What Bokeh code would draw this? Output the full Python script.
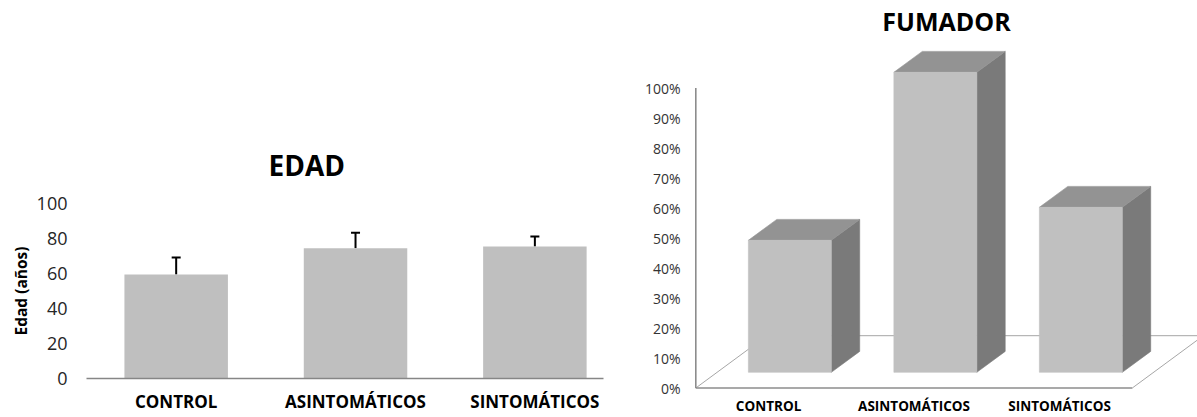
import numpy as np
from bokeh.plotting import figure
from bokeh.layouts import row
from bokeh.models import (FixedTicker, PrintfTickFormatter, Whisker, TeeHead,
                          ColumnDataSource, Range1d, Title)
from bokeh.embed import file_html
from bokeh.resources import INLINE
from bokeh.core.properties import value

# ---------------- data ----------------
categories = ["CONTROL", "ASINTOMÁTICOS", "SINTOMÁTICOS"]
edad_mean = [59.4, 74.5, 75.4]
edad_err = [9.7, 8.8, 5.7]
edad_ticks = [0, 20, 40, 60, 80, 100]
fumador_pct = [44, 100, 55]
fumador_ticks = [0, 10, 20, 30, 40, 50, 60, 70, 80, 90, 100]

FONT = "Open Sans"
H = 417

# ---------------- left chart: EDAD ----------------
UNIT1 = 179.35  # px per category
p1 = figure(width=620, height=H,
            x_range=Range1d(-0.5, -0.5 + 517 / UNIT1), y_range=Range1d(0, 100),
            output_backend="svg", toolbar_location=None,
            min_border_left=86, min_border_right=17,
            min_border_top=203, min_border_bottom=H - 378)
p1.frame_align = False
p1.outline_line_color = None
p1.xgrid.visible = False
p1.ygrid.visible = False

idx = list(range(len(categories)))
src1 = ColumnDataSource(dict(
    x=idx, mean=edad_mean,
    upper=[m + e for m, e in zip(edad_mean, edad_err)]))
p1.vbar(x="x", top="mean", bottom=0, width=0.577, source=src1,
        fill_color="#bfbfbf", line_color=None)
p1.add_layout(Whisker(base="x", lower="mean", upper="upper", source=src1,
                      lower_head=None,
                      upper_head=TeeHead(size=9, line_width=2, line_color="black"),
                      line_width=2, line_color="black"))

p1.xaxis.ticker = FixedTicker(ticks=idx)
p1.xaxis.major_label_overrides = {i: c for i, c in enumerate(categories)}
p1.xaxis.axis_line_color = "#868686"
p1.xaxis.axis_line_width = 1.3
p1.xaxis.major_tick_line_color = None
p1.xaxis.minor_tick_line_color = None
p1.xaxis.major_tick_out = 0
p1.xaxis.major_tick_in = 0
p1.xaxis.major_label_standoff = 11
p1.xaxis.major_label_text_font = FONT
p1.xaxis.major_label_text_font_size = "17px"
p1.xaxis.major_label_text_font_style = "bold"
p1.xaxis.major_label_text_color = "black"

p1.yaxis.ticker = FixedTicker(ticks=edad_ticks)
p1.yaxis.axis_line_color = None
p1.yaxis.major_tick_line_color = None
p1.yaxis.minor_tick_line_color = None
p1.yaxis.major_tick_out = 0
p1.yaxis.major_tick_in = 0
p1.yaxis.major_label_standoff = 19
p1.yaxis.major_label_text_font = FONT
p1.yaxis.major_label_text_font_size = "18px"
p1.yaxis.major_label_text_color = "#262626"
p1.yaxis.axis_label = "Edad (años)"
p1.yaxis.axis_label_text_font = FONT
p1.yaxis.axis_label_text_font_size = "15.5px"
p1.yaxis.axis_label_text_font_style = "bold"
p1.yaxis.axis_label_text_color = "black"
p1.yaxis.axis_label_standoff = 2

p1.add_layout(Title(text="EDAD", align="left", offset=182, standoff=39,
                    text_font=FONT, text_font_size="28px",
                    text_font_style="bold", text_color="black"), "above")

# ---------------- right chart: FUMADOR (3D columns) ----------------
UX = 145.5     # px per category slot
UY = 3.0       # px per percent
DX = 71 / UX   # depth offset (full floor depth) in x units
DY = 52.3 / UY # depth offset in y units
Z0, Z1 = 0.3, 0.7
HW = 0.285
n = len(categories)

W2 = 577
left_px, axis_px = 72, 75.3
x_start = -(axis_px - left_px) / UX
frame_w = W2 - left_px
zero_px = 387.5
p2 = figure(width=W2, height=H,
            x_range=Range1d(x_start, x_start + frame_w / UX),
            y_range=Range1d(-(H - zero_px) / UY, zero_px / UY),
            output_backend="svg", toolbar_location=None,
            min_border_left=left_px, min_border_right=0,
            min_border_top=0, min_border_bottom=0)
p2.frame_align = False
p2.outline_line_color = None
p2.xgrid.visible = False
p2.ygrid.visible = False
p2.xaxis.visible = False

# floor
p2.multi_line(xs=[[0, DX], [n, n + DX], [DX, n + DX]],
              ys=[[0, DY], [0, DY], [DY, DY]],
              line_color="#a6a6a6", line_width=1)
p2.line(x=[0, n], y=[0, 0], line_color="#8c8c8c", line_width=1.6)
# vertical axis line
p2.line(x=[0, 0], y=[0, max(fumador_ticks)], line_color="#8c8c8c", line_width=1.6)

fx, fy, sx, sy, tx, ty = [], [], [], [], [], []
for i, v in enumerate(fumador_pct):
    c = i + 0.5
    xl, xr = c - HW, c + HW
    fx.append([xl + Z0 * DX, xr + Z0 * DX, xr + Z0 * DX, xl + Z0 * DX])
    fy.append([Z0 * DY, Z0 * DY, v + Z0 * DY, v + Z0 * DY])
    sx.append([xr + Z0 * DX, xr + Z1 * DX, xr + Z1 * DX, xr + Z0 * DX])
    sy.append([Z0 * DY, Z1 * DY, v + Z1 * DY, v + Z0 * DY])
    tx.append([xl + Z0 * DX, xr + Z0 * DX, xr + Z1 * DX, xl + Z1 * DX])
    ty.append([v + Z0 * DY, v + Z0 * DY, v + Z1 * DY, v + Z1 * DY])

p2.patches(sx, sy, fill_color="#7a7a7a", line_color="#7a7a7a", line_width=0.6)
p2.patches(tx, ty, fill_color="#939393", line_color="#939393", line_width=0.6)
p2.patches(fx, fy, fill_color="#c0c0c0", line_color="#c0c0c0", line_width=0.6)

p2.yaxis.ticker = FixedTicker(ticks=fumador_ticks)
p2.yaxis.formatter = PrintfTickFormatter(format="%d%%")
p2.yaxis.axis_line_color = None
p2.yaxis.major_tick_line_color = None
p2.yaxis.minor_tick_line_color = None
p2.yaxis.major_tick_out = 0
p2.yaxis.major_tick_in = 0
p2.yaxis.major_label_standoff = 12
p2.yaxis.major_label_text_font = FONT
p2.yaxis.major_label_text_font_size = "14px"
p2.yaxis.major_label_text_color = "#333333"

p2.text(x=[i + 0.5 for i in range(n)], y=[(zero_px - 405.5) / UY] * n, text=categories,
        text_font=value(FONT), text_font_size="13.5px", text_font_style="bold",
        text_align="center", text_baseline="middle", text_color="black")
p2.text(x=[(326 - axis_px) / UX], y=[(zero_px - 20.8) / UY], text=["FUMADOR"],
        text_font=value(FONT), text_font_size="25px", text_font_style="bold",
        text_align="center", text_baseline="middle", text_color="black")

layout = row(p1, p2)
open("out.html", "w").write(file_html(layout, INLINE))
